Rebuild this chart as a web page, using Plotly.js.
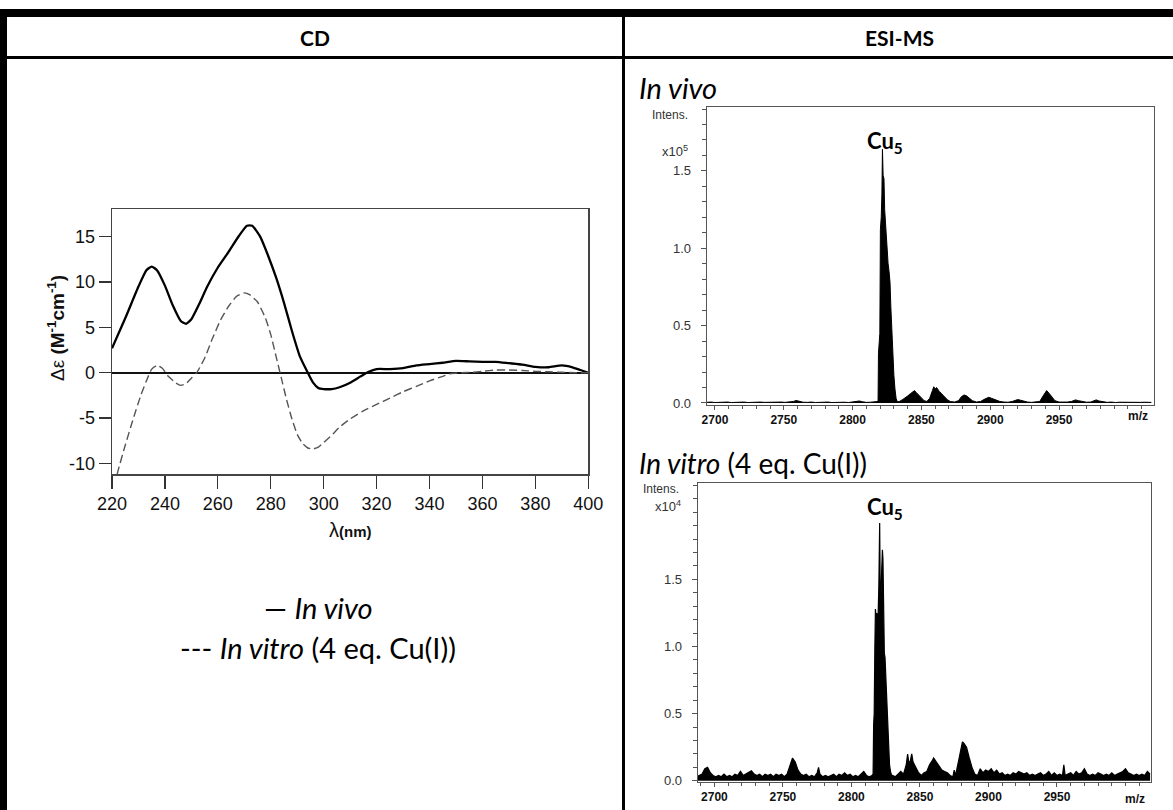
<!DOCTYPE html>
<html><head><meta charset="utf-8">
<script src="https://cdn.plot.ly/plotly-3.0.1.min.js"></script>
<style>html,body{margin:0;padding:0;background:#fff}#chart{width:1173px;height:810px}</style>
</head><body><div id="chart"></div>
<script>
// ---------- CD spectra ----------
const cdVivoNm = [220,225,230,233,235,237,240,243,246,248,
  250,253,256,260,264,268,271,273,276,279,
  282,285,288,291,294,296,298,300,303,306,
  310,314,317,320,325,330,335,340,345,350,
  355,360,365,370,375,380,385,390,394,397,
  400];
const cdVivoDeps = [2.7,6.0,9.5,11.3,11.7,11.3,9.6,7.4,5.7,5.4,
  5.9,7.6,9.5,11.6,13.3,15.1,16.2,16.2,15.0,12.9,
  10.5,7.7,4.6,1.8,0.0,-1.1,-1.7,-1.8,-1.8,-1.6,
  -1.1,-0.4,0.1,0.4,0.4,0.5,0.8,0.95,1.1,1.3,
  1.25,1.2,1.2,1.05,0.9,0.65,0.6,0.8,0.6,0.3,
  0.0];
const cdVitroNm = [221,222.2,225,228,231,233,235,237,239,241,
  244,246,248,250,252,255,258,261,264,267,
  270,272,275,278,280,282,284,286,288,290,
  292,294,296,298,300,303,306,310,315,320,
  325,330,335,340,345,348,352,356,360,365,
  370,375,380,385,390,395,400];
const cdVitroDeps = [-12.5,-10.9,-8.0,-5.1,-2.4,-0.9,0.4,0.8,0.5,-0.3,
  -1.1,-1.4,-1.2,-0.6,0.0,1.6,3.8,5.8,7.3,8.4,
  8.8,8.6,7.8,6.0,4.2,1.8,-0.6,-3.0,-5.1,-6.8,
  -7.8,-8.3,-8.4,-8.2,-7.7,-6.9,-6.0,-5.1,-4.2,-3.5,
  -2.8,-2.1,-1.5,-0.9,-0.4,-0.1,0.0,0.05,0.15,0.3,
  0.3,0.25,0.15,0.1,0.05,0.0,0.0];
const cdTicksX = [220,240,260,280,300,320,340,360,380,400];
const cdTicksY = [-10,-5,0,5,10,15];
const cdTickTextY = ['-10','-5','0','5','10','15'];

// ---------- ESI-MS tick labels ----------
const msTicksX = [2700,2750,2800,2850,2900,2950];
const msTicksY = [0,0.5,1.0,1.5];
const msTickTextY = ['0.0','0.5','1.0','1.5'];

// ---------- ESI-MS in vivo (x10^5) ----------
const msVivoMz = [2694,2697,2700,2703,2706,2709,2712,2715,2718,2721,
  2724,2727,2730,2733,2736,2739,2742,2745,2748,2751,
  2754,2757,2759,2761,2764,2767,2770,2773,2776,2779,
  2782,2785,2788,2791,2794,2797,2800,2803,2805,2807,
  2810,2813,2816,
  2818.5,2818.8,2819.3,2819.8,2820.2,2820.8,2821.3,2821.7,2822.2,2822.8,
  2823.3,2823.8,2824.3,2824.8,2825.3,2825.8,2826.5,2827.2,2827.8,2828.5,
  2829.2,2830,2830.8,2831.6,2832.5,
  2834,2836,2838,2840,2842,2844,2845,2846,2848,2850,
  2852,2854,2856,2858,2859,2860,2861,2863,2865,2867,
  2869,2871,2874,2877,2879,2881,2883,2885,2887,2890,
  2893,2896,2899,2901,2904,2907,2910,2913,2916,2918,
  2920,2922,2924,2927,2930,2933,2936,2938,2940,2941,
  2943,2945,2947,2950,2953,2956,2959,2962,2964,2967,
  2970,2973,2975,2977,2979,2982,2985,2988,2991,2994,
  2997,3000,3003,3006,3009,3012,3015,3017];
const msVivoInt = [0.004,0.006,0.003,0.005,0.004,0.006,0.003,0.005,0.004,0.006,
  0.003,0.005,0.004,0.006,0.004,0.005,0.003,0.005,0.006,0.004,
  0.006,0.010,0.016,0.011,0.005,0.004,0.006,0.003,0.005,0.004,
  0.006,0.003,0.005,0.004,0.005,0.003,0.005,0.007,0.013,0.008,
  0.004,0.005,0.006,
  0.01,0.32,0.40,0.45,1.12,1.20,1.35,1.64,1.47,1.45,
  1.25,1.18,1.10,1.00,0.95,0.90,0.85,0.78,0.62,0.45,
  0.30,0.18,0.09,0.03,0.008,
  0.01,0.02,0.03,0.045,0.06,0.075,0.08,0.07,0.05,0.03,
  0.015,0.01,0.03,0.08,0.105,0.09,0.10,0.075,0.055,0.035,
  0.02,0.01,0.006,0.015,0.04,0.052,0.045,0.03,0.015,0.006,
  0.01,0.025,0.037,0.03,0.02,0.01,0.006,0.005,0.01,0.018,
  0.022,0.018,0.012,0.006,0.004,0.005,0.01,0.04,0.07,0.08,
  0.06,0.035,0.015,0.006,0.005,0.006,0.01,0.02,0.015,0.008,
  0.005,0.006,0.012,0.02,0.013,0.006,0.004,0.006,0.003,0.005,
  0.004,0.006,0.003,0.005,0.004,0.005,0.003,0.004];

// ---------- ESI-MS in vitro, 4 eq. Cu(I) (x10^4) ----------
const msVitroMz = [2687,2689,2691,2693,2695,2697,2699,2701,2703,2705,
  2707,2709,2711,2713,2715,2717,2719,2721,2723,2725,
  2727,2729,2731,2733,2735,2737,2739,2741,2743,2745,
  2747,2749,2751,2753,2755,2757,2759,2761,2763,2765,
  2767,2769,2771,2773,2775,2776,2777,2779,2781,2783,
  2785,2787,2789,2791,2793,2795,2797,2799,2801,2803,
  2805,2807,2809,2811,2813,2815,
  2815.8,2816.2,2816.6,2817.1,2817.5,2818.0,2818.5,2819.0,2819.5,2820.0,
  2820.6,2821.0,2821.5,2822.0,2822.6,2823.0,2823.5,2824.0,2824.5,2825.0,
  2825.5,2826.0,2826.6,2827.2,2827.8,2828.5,2829.3,
  2830,2832,2834,2836,2838,2840,2841,2842,2843,2844,
  2845,2847,2849,2851,2853,2855,2857,2859,2860,2862,
  2864,2866,2868,2870,2872,2874,2875,2876,2878,2880,
  2881,2882,2884,2886,2888,2890,2892,2894,2896,2898,
  2900,2902,2904,2906,2908,2910,2912,2914,2916,2918,
  2920,2922,2924,2926,2928,2930,2932,2934,2936,2938,
  2940,2942,2944,2946,2948,2950,2952,2954,2955,2956,
  2958,2960,2962,2964,2966,2968,2970,2972,2974,2976,
  2978,2980,2982,2984,2986,2988,2990,2992,2994,2996,
  2998,3000,3002,3004,3006,3008,3010,3012,3014,3016,
  3018];
const msVitroInt = [0.03,0.04,0.05,0.09,0.10,0.06,0.04,0.03,0.04,0.03,
  0.05,0.03,0.04,0.03,0.05,0.04,0.07,0.04,0.05,0.06,
  0.075,0.05,0.04,0.05,0.03,0.05,0.04,0.05,0.03,0.05,
  0.04,0.05,0.03,0.05,0.11,0.17,0.14,0.08,0.05,0.04,
  0.05,0.03,0.04,0.03,0.06,0.10,0.05,0.03,0.04,0.03,
  0.04,0.05,0.03,0.05,0.04,0.06,0.04,0.05,0.03,0.04,
  0.03,0.05,0.07,0.04,0.03,0.04,
  0.05,0.42,0.50,1.00,1.28,1.22,1.25,1.18,1.25,1.45,
  1.92,1.40,1.35,1.55,1.72,1.65,1.25,0.95,0.92,0.80,
  0.70,0.52,0.38,0.23,0.12,0.07,0.04,
  0.04,0.03,0.05,0.07,0.05,0.12,0.20,0.13,0.15,0.20,
  0.14,0.10,0.06,0.04,0.06,0.07,0.12,0.15,0.17,0.14,
  0.11,0.08,0.07,0.06,0.04,0.03,0.08,0.04,0.14,0.24,
  0.29,0.28,0.25,0.17,0.10,0.05,0.04,0.09,0.06,0.08,
  0.07,0.09,0.06,0.08,0.05,0.06,0.04,0.05,0.04,0.06,
  0.05,0.07,0.06,0.05,0.06,0.04,0.05,0.04,0.05,0.06,
  0.04,0.05,0.07,0.04,0.06,0.04,0.05,0.04,0.12,0.04,
  0.05,0.06,0.04,0.07,0.05,0.06,0.09,0.05,0.04,0.05,
  0.04,0.06,0.05,0.04,0.05,0.04,0.06,0.04,0.05,0.06,
  0.07,0.09,0.06,0.05,0.04,0.05,0.04,0.05,0.04,0.07,
  0.05];

// ---------- layout helpers (pixel -> paper) ----------
const W = 1173, H = 810;
const px = x => x / W;
const py = y => 1 - y / H;
const ARIAL = 'Liberation Sans, Arial, sans-serif';
const CAL = 'Lato, Open Sans, sans-serif';

const traces = [
  {x: cdVivoNm, y: cdVivoDeps, mode: 'lines', xaxis: 'x', yaxis: 'y',
   line: {color: '#000', width: 2.3, shape: 'spline', smoothing: 0.5}},
  {x: cdVitroNm, y: cdVitroDeps, mode: 'lines', xaxis: 'x', yaxis: 'y',
   line: {color: '#555', width: 1.4, dash: '8px,4px', shape: 'spline', smoothing: 0.5}},
  {x: msVivoMz, y: msVivoInt, mode: 'lines', xaxis: 'x2', yaxis: 'y2',
   fill: 'tozeroy', fillcolor: '#000', line: {color: '#000', width: 1}},
  {x: msVitroMz, y: msVitroInt, mode: 'lines', xaxis: 'x3', yaxis: 'y3',
   fill: 'tozeroy', fillcolor: '#000', line: {color: '#000', width: 1.2}}
];

const msX = (dom, yref, rng) => ({
  domain: dom, anchor: yref, range: rng, tickmode: 'array', tickvals: msTicksX,
  ticks: 'outside', ticklen: 4, tickcolor: '#555', tickwidth: 1,
  minor: {tickmode: 'linear', tick0: 2700, dtick: 10, ticks: 'outside', ticklen: 3, tickcolor: '#555'},
  showline: true, mirror: true, linecolor: '#555', linewidth: 1,
  showgrid: false, zeroline: false,
  tickfont: {family: ARIAL, size: 12, color: '#111', weight: 'bold'}
});
const msY = (dom, xref, rng) => ({
  domain: dom, anchor: xref, range: rng, tickmode: 'array', tickvals: msTicksY, ticktext: msTickTextY,
  ticks: 'outside', ticklen: 5, tickcolor: '#555', tickwidth: 1,
  minor: {tickmode: 'linear', tick0: 0, dtick: 0.1, ticks: 'outside', ticklen: 4, tickcolor: '#555'},
  ticklabelstandoff: 7,
  showline: true, mirror: true, linecolor: '#555', linewidth: 1,
  showgrid: false, zeroline: false,
  tickfont: {family: ARIAL, size: 13, color: '#333'}
});

const ann = (text, x, y, font, extra) => Object.assign({
  text: text, x: px(x), y: py(y), xref: 'paper', yref: 'paper', showarrow: false,
  xanchor: 'center', yanchor: 'middle', font: font}, extra || {});

const layout = {
  width: W, height: H, margin: {l: 0, r: 0, t: 0, b: 0},
  paper_bgcolor: '#fff', plot_bgcolor: '#fff', showlegend: false,
  xaxis: {domain: [px(112), px(588.3)], anchor: 'y', range: [220, 400], tickvals: cdTicksX,
    ticks: 'outside', ticklen: 13, tickwidth: 1.3, tickcolor: '#333',
    showline: true, mirror: true, linecolor: '#444', linewidth: 1.3,
    showgrid: false, zeroline: false,
    tickfont: {family: ARIAL, size: 18, color: '#111'}},
  yaxis: {domain: [py(474.3), py(209)], anchor: 'x', range: [-11.2, 18.05],
    tickvals: cdTicksY, ticktext: cdTickTextY,
    ticks: 'outside', ticklen: 12, tickwidth: 1.3, tickcolor: '#333',
    showline: true, mirror: true, linecolor: '#444', linewidth: 1.3,
    showgrid: false, zeroline: true, zerolinecolor: '#111', zerolinewidth: 1.6,
    tickfont: {family: ARIAL, size: 18, color: '#111'}},
  xaxis2: msX([px(706.7), px(1154)], 'y2', [2694, 3019]),
  yaxis2: msY([py(405), py(107.3)], 'x2', [-0.013, 1.911]),
  xaxis3: msX([px(697.7), px(1150.7)], 'y3', [2687.8, 3018.4]),
  yaxis3: msY([py(781.5), py(482.7)], 'x3', [-0.005, 2.22]),
  shapes: [
    {type: 'rect', xref: 'paper', yref: 'paper', x0: 0, x1: 1, y0: py(17), y1: py(9), fillcolor: '#000', line: {width: 0}},
    {type: 'rect', xref: 'paper', yref: 'paper', x0: 0, x1: px(7), y0: 0, y1: py(9), fillcolor: '#000', line: {width: 0}},
    {type: 'rect', xref: 'paper', yref: 'paper', x0: 0, x1: 1, y0: py(59), y1: py(56), fillcolor: '#000', line: {width: 0}},
    {type: 'rect', xref: 'paper', yref: 'paper', x0: px(622), x1: px(625), y0: 0, y1: py(9), fillcolor: '#000', line: {width: 0}}
  ],
  annotations: [
    ann('<b>CD</b>', 314.5, 37, {family: CAL, size: 21, color: '#000'}),
    ann('<b>ESI-MS</b>', 899, 37, {family: CAL, size: 21, color: '#000'}),
    ann('<i>In vivo</i>', 637, 88, {family: CAL, size: 29, color: '#000'}, {xanchor: 'left'}),
    ann('<i>In vitro</i> (4 eq. Cu(I))', 637, 463, {family: CAL, size: 28, color: '#000'}, {xanchor: 'left'}),
    ann('— <i>In vivo</i>', 318, 607, {family: CAL, size: 29, color: '#000'}),
    ann('--- <i>In vitro</i> (4 eq. Cu(I))', 318, 647, {family: CAL, size: 29, color: '#000'}),
    ann('<b>Cu<sub>5</sub></b>', 885, 142, {family: CAL, size: 22, color: '#000'}),
    ann('<b>Cu<sub>5</sub></b>', 885, 508, {family: CAL, size: 22, color: '#000'}),
    ann('Intens.', 690, 115, {family: ARIAL, size: 12, color: '#333'}, {xanchor: 'right'}),
    ann('x10<sup>5</sup>', 690, 151, {family: ARIAL, size: 13, color: '#333'}, {xanchor: 'right'}),
    ann('Intens.', 681, 489, {family: ARIAL, size: 12, color: '#333'}, {xanchor: 'right'}),
    ann('x10<sup>4</sup>', 683, 506, {family: ARIAL, size: 13, color: '#333'}, {xanchor: 'right'}),
    ann('<b>m/z</b>', 1138, 416, {family: ARIAL, size: 12, color: '#111'}),
    ann('<b>m/z</b>', 1135, 799, {family: ARIAL, size: 12, color: '#111'}),
    ann('Δε <b>(M<sup>-1</sup>cm<sup>-1</sup>)</b>', 56, 328, {family: ARIAL, size: 19, color: '#111'}, {textangle: -90}),
    ann('λ<b><span style="font-size:15px">(nm)</span></b>', 350, 530, {family: ARIAL, size: 20, color: '#111'})
  ]
};

Plotly.newPlot('chart', traces, layout, {staticPlot: true, displayModeBar: false});
</script>
</body></html>
